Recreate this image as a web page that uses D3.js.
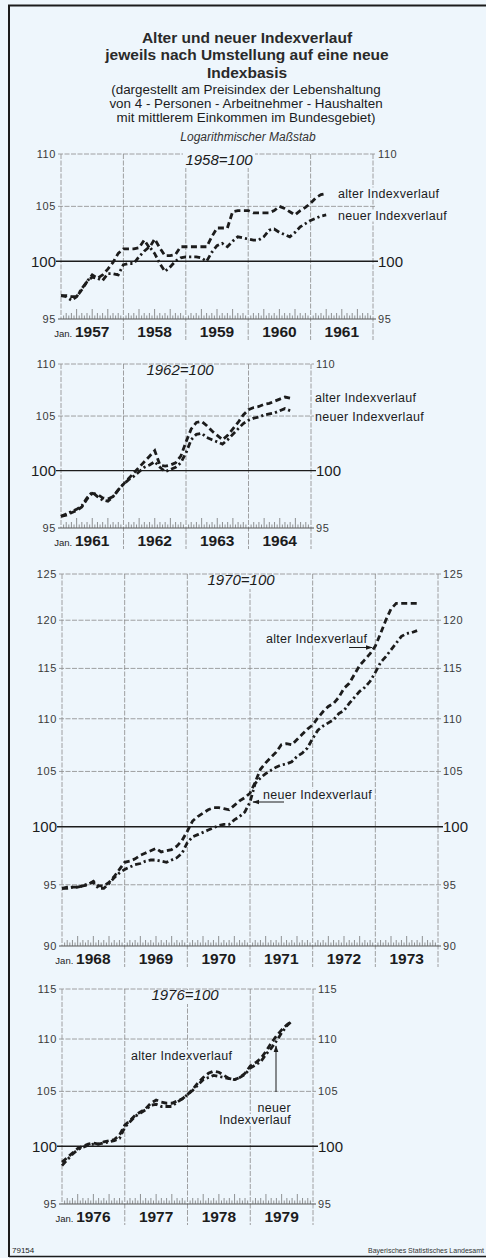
<!DOCTYPE html>
<html lang="de">
<head>
<meta charset="UTF-8">
<title>Alter und neuer Indexverlauf</title>
<script src="https://d3js.org/d3.v7.min.js"></script>
<style>
  body { margin: 0; background: #eef6fc; }
  svg { display: block; font-family: "Liberation Sans", Arial, sans-serif; }
</style>
</head>
<body>
<svg id="chart" width="486" height="1258"></svg>
<script>
// --- data: monthly index values (Jan. of first year = index 0)
const years1 = [1957, 1958, 1959, 1960, 1961];
const alter1 = [97.0, 97.0, 96.9, 96.9, 97.5, 98.2, 98.6, 98.5, 98.8, 99.3, 99.9, 100.7,
  101.1, 101.1, 101.1, 101.2, 101.9, 101.2, 102.0, 101.2, 100.5, 100.5, 100.6, 101.3,
  101.3, 101.3, 101.3, 101.3, 101.3, 102.2, 103.0, 103.0, 103.0, 104.5, 104.6, 104.6,
  104.6, 104.4, 104.4, 104.4, 104.4, 104.6, 105.0, 104.8, 104.5, 104.2, 104.6, 104.9,
  105.3, 105.8, 106.1, 106.2];
const neuer1 = [97.0, 96.9, 96.6, 96.9, 97.6, 98.2, 98.8, 98.5, 98.3, 98.9, 98.9, 98.8,
  99.7, 99.8, 99.8, 100.4, 100.9, 101.3, 100.7, 99.8, 99.1, 99.5, 100.0, 100.3,
  100.4, 100.4, 100.4, 100.3, 100.0, 100.8, 101.4, 101.6, 101.3, 101.8, 102.2, 102.1,
  102.0, 101.9, 101.9, 102.2, 102.8, 102.9, 102.6, 102.4, 102.2, 102.6, 103.1, 103.4,
  103.7, 103.9, 104.1, 104.2];
const ticks1 = [95, 100, 105, 110];

const years2 = [1961, 1962, 1963, 1964];
const alter2 = [96.0, 96.1, 96.3, 96.5, 96.8, 97.5, 98.0, 97.9, 97.6, 97.5, 97.7, 98.3,
  98.8, 99.3, 99.8, 100.3, 100.8, 101.3, 101.8, 100.5, 100.4, 100.5, 100.7, 101.3,
  102.6, 103.8, 104.4, 104.5, 104.1, 103.6, 103.2, 102.8, 103.2, 103.8, 104.4, 105.1,
  105.6, 105.8, 105.9, 106.1, 106.2, 106.4, 106.6, 106.8, 106.7];
const neuer2 = [96.0, 96.2, 96.4, 96.6, 96.9, 97.6, 98.1, 97.7, 97.4, 97.3, 97.7, 98.3,
  98.8, 99.2, 99.5, 99.9, 100.3, 100.5, 100.8, 100.3, 99.9, 100.1, 100.3, 100.7,
  101.6, 102.8, 103.3, 103.4, 103.0, 102.8, 102.6, 102.4, 102.8, 103.3, 103.8, 104.3,
  104.6, 104.8, 104.9, 105.1, 105.2, 105.3, 105.5, 105.7, 105.5];
const ticks2 = [95, 100, 105, 110];

const years3 = [1968, 1969, 1970, 1971, 1972, 1973];
const alter3 = [94.7, 94.8, 94.8, 94.8, 94.9, 95.0, 95.3, 94.9, 94.9, 95.2, 95.7, 96.3,
  96.9, 97.0, 97.2, 97.5, 97.7, 97.9, 98.1, 97.8, 97.9, 98.0, 98.3, 98.8,
  99.6, 100.5, 100.9, 101.2, 101.5, 101.7, 101.7, 101.6, 101.5, 101.9, 102.3, 102.6,
  103.0, 104.0, 105.2, 105.8, 106.3, 106.8, 107.5, 107.6, 107.5, 108.0, 108.5, 109.0,
  109.4, 110.1, 110.7, 111.2, 111.5, 112.1, 113.0, 113.5, 114.4, 115.3, 115.9, 116.5,
  117.3, 118.6, 120.0, 121.2, 121.8, 121.8, 121.8, 121.8, 121.8];
const neuer3 = [94.7, 94.7, 94.8, 94.8, 94.9, 95.1, 95.2, 94.7, 94.7, 95.1, 95.6, 96.0,
  96.3, 96.5, 96.7, 96.8, 97.0, 97.1, 97.1, 97.0, 96.9, 97.1, 97.3, 97.7,
  98.6, 99.1, 99.3, 99.5, 99.7, 99.9, 100.1, 100.2, 100.2, 100.6, 100.9, 101.3,
  102.2, 103.9, 104.4, 104.8, 105.1, 105.4, 105.6, 105.7, 105.9, 106.4, 106.7, 107.2,
  108.1, 108.9, 109.3, 109.6, 109.9, 110.5, 110.8, 111.5, 112.1, 112.7, 113.1, 113.7,
  114.6, 115.6, 116.2, 116.9, 117.6, 118.3, 118.6, 118.7, 118.9];
const ticks3 = [90, 95, 100, 105, 110, 115, 120, 125];

const years4 = [1976, 1977, 1978, 1979];
const alter4 = [98.6, 99.0, 99.4, 99.8, 100.0, 100.2, 100.3, 100.2, 100.4, 100.5, 100.6, 101.0,
  101.9, 102.3, 102.8, 103.1, 103.4, 103.9, 104.2, 104.0, 103.9, 103.9, 104.1, 104.3,
  104.7, 105.2, 105.8, 106.3, 106.7, 106.9, 106.8, 106.5, 106.2, 106.1, 106.3, 106.7,
  107.4, 107.7, 108.1, 108.8, 109.6, 110.3, 110.9, 111.4, 111.8];
const neuer4 = [98.3, 98.8, 99.3, 99.7, 99.9, 100.1, 100.2, 100.2, 100.3, 100.4, 100.5, 100.7,
  101.7, 102.2, 102.7, 103.0, 103.3, 103.7, 103.8, 103.6, 103.6, 103.6, 104.0, 104.3,
  104.7, 105.1, 105.6, 106.1, 106.3, 106.5, 106.4, 106.3, 106.2, 106.1, 106.3, 106.6,
  107.2, 107.5, 107.8, 108.5, 109.1, 109.8, 110.6, 111.3, 111.8];
const ticks4 = [95, 100, 105, 110, 115];

const titleLines = ['Alter und neuer Indexverlauf', 'jeweils nach Umstellung auf eine neue', 'Indexbasis'];
const subLines = ['(dargestellt am Preisindex der Lebenshaltung',
  'von 4 - Personen - Arbeitnehmer - Haushalten',
  'mit mittlerem Einkommen im Bundesgebiet)'];

// --- layout
const bg = '#eef6fc';
const ink = '#1c1c1c';
const gridCol = '#8a8a8a';

const panels = [
  { years: years1, alter: alter1, neuer: neuer1, ticks: ticks1, x0: 61, x1: 373, yTop: 154, yBot: 319,
    base: '1958=100', baseX: 219, cutTop: true, hideRight: [105],
    labels: [{ t: 'alter Indexverlauf', x: 338, y: 197.5 }, { t: 'neuer Indexverlauf', x: 338, y: 219.5 }],
    arrows: [] },
  { years: years2, alter: alter2, neuer: neuer2, ticks: ticks2, x0: 61, x1: 311, yTop: 364, yBot: 528,
    base: '1962=100', baseX: 180, cutTop: false, hideRight: [105],
    labels: [{ t: 'alter Indexverlauf', x: 315, y: 401.5 }, { t: 'neuer Indexverlauf', x: 315, y: 420.5 }],
    arrows: [] },
  { years: years3, alter: alter3, neuer: neuer3, ticks: ticks3, x0: 62, x1: 438, yTop: 574, yBot: 946,
    base: '1970=100', baseX: 241, cutTop: false, hideRight: [],
    labels: [{ t: 'alter Indexverlauf', x: 266, y: 642.5 }, { t: 'neuer Indexverlauf', x: 263, y: 798.5 }],
    arrows: [[349, 647.5, 372, 647.5], [284, 802, 253, 802]] },
  { years: years4, alter: alter4, neuer: neuer4, ticks: ticks4, x0: 62, x1: 313, yTop: 989, yBot: 1204,
    base: '1976=100', baseX: 185, cutTop: false, hideRight: [],
    labels: [{ t: 'alter Indexverlauf', x: 131, y: 1059.5 },
             { t: 'neuer', x: 291, y: 1111.5, anchor: 'end' },
             { t: 'Indexverlauf', x: 291, y: 1124, anchor: 'end' }],
    arrows: [[276, 1092, 276, 1046]] }
];

const svg = d3.select('#chart');
svg.append('rect').attr('width', 486).attr('height', 1258).attr('fill', bg);

// arrowhead
svg.append('defs').append('marker')
  .attr('id', 'head').attr('viewBox', '0 0 10 10').attr('refX', 9).attr('refY', 5)
  .attr('markerWidth', 7).attr('markerHeight', 7).attr('orient', 'auto')
  .append('path').attr('d', 'M0,1.5 L10,5 L0,8.5 Z').attr('fill', ink);

// frame
svg.append('path')
  .attr('d', 'M9,1257 L9,5.5 L486,5.5')
  .attr('fill', 'none').attr('stroke', ink).attr('stroke-width', 2);
svg.append('line').attr('x1', 9).attr('x2', 486).attr('y1', 1256.5).attr('y2', 1256.5)
  .attr('stroke', ink).attr('stroke-width', 1.5);

// titles
svg.append('g').selectAll('text').data(titleLines).join('text')
  .attr('x', 247).attr('y', (d, i) => 42.5 + i * 17.5)
  .attr('text-anchor', 'middle').attr('font-size', 15.5).attr('font-weight', 'bold')
  .attr('fill', '#2a2a2a').text(d => d);
svg.append('g').selectAll('text').data(subLines).join('text')
  .attr('x', 246).attr('y', (d, i) => 93.5 + i * 14)
  .attr('text-anchor', 'middle').attr('font-size', 13.4)
  .attr('fill', ink).text(d => d);
svg.append('text').attr('x', 248).attr('y', 140.5).attr('text-anchor', 'middle')
  .attr('font-size', 12).attr('font-style', 'italic').attr('fill', '#333')
  .text('Logarithmischer Maßstab');

panels.forEach(p => {
  const n = p.years.length * 12;
  const x = d3.scaleLinear().domain([0, n]).range([p.x0, p.x1]);
  const y = d3.scaleLog().domain([p.ticks[0], p.ticks[p.ticks.length - 1]]).range([p.yBot, p.yTop]);
  const g = svg.append('g');

  // horizontal gridlines
  g.selectAll('.hg').data(p.ticks.filter(t => t !== 100 && t !== p.ticks[0])).join('line')
    .attr('x1', x(0) - 3).attr('x2', x(n) + 3)
    .attr('y1', d => y(d)).attr('y2', d => y(d))
    .attr('stroke', gridCol).attr('stroke-width', 0.8).attr('stroke-dasharray', '5,1.5');

  // vertical gridlines (year boundaries), extended below axis as separators
  const yb = d3.range(0, p.years.length + 1);
  g.selectAll('.vg').data(yb).join('line')
    .attr('x1', d => x(d * 12)).attr('x2', d => x(d * 12))
    .attr('y1', p.yTop).attr('y2', d => d === 0 ? p.yBot : p.yBot + 21)
    .attr('stroke', gridCol).attr('stroke-width', 0.8).attr('stroke-dasharray', '5,1.5');

  // base line at bottom
  g.append('line').attr('x1', x(0) - 3).attr('x2', x(n) + 3)
    .attr('y1', p.yBot).attr('y2', p.yBot).attr('stroke', '#444').attr('stroke-width', 0.9);

  // month ticks (half-month short, quarters tall)
  const tk = d3.range(1, n * 2).filter(k => k % 24 !== 0);
  g.selectAll('.tk').data(tk).join('line')
    .attr('x1', k => x(k / 2)).attr('x2', k => x(k / 2))
    .attr('y1', p.yBot)
    .attr('y2', k => p.yBot - (k % 2 === 1 ? 3.5 : ((k / 2) % 3 === 0 ? 10 : 6)))
    .attr('stroke', '#666').attr('stroke-width', 0.7);

  // 100 line
  g.append('line').attr('x1', x(0) - 5).attr('x2', x(n) + 5)
    .attr('y1', y(100)).attr('y2', y(100)).attr('stroke', ink).attr('stroke-width', 1.4);

  // y labels
  const lab = (sel, side) => sel
    .attr('x', side === 'l' ? x(0) - 5 : x(n) + 5)
    .attr('y', d => y(d) + (d === 100 ? 5.5 : 4))
    .attr('text-anchor', side === 'l' ? 'end' : 'start')
    .attr('font-size', d => d === 100 ? 15 : 11)
    .attr('fill', d => d === 100 ? ink : '#3a3a3a')
    .attr('letter-spacing', d => d === 100 ? 0 : 0.6)
    .text(d => d);
  g.selectAll('.yl').data(p.ticks).join('text').call(lab, 'l');
  g.selectAll('.yr').data(p.ticks.filter(t => !p.hideRight.includes(t))).join('text').call(lab, 'r');

  // year labels
  g.selectAll('.yr2').data(p.years).join('text')
    .attr('x', (d, i) => x(i * 12 + 6)).attr('y', p.yBot + 18)
    .attr('text-anchor', 'middle').attr('font-size', 15.5).attr('font-weight', 'bold')
    .attr('fill', ink).text(d => d);
  g.append('text').attr('x', x(6) - 20).attr('y', p.yBot + 18)
    .attr('text-anchor', 'end').attr('font-size', 9.5).attr('fill', ink).text('Jan.');

  // base label
  const bw = 72;
  g.append('rect').attr('x', p.baseX - bw / 2).attr('y', p.cutTop ? p.yTop - 2 : p.yTop + 1)
    .attr('width', bw).attr('height', p.cutTop ? 16 : 14).attr('fill', bg);
  g.append('text').attr('x', p.baseX).attr('y', p.yTop + 10.5)
    .attr('text-anchor', 'middle').attr('font-size', 15).attr('font-style', 'italic')
    .attr('fill', ink).text(p.base);

  // series lines
  const line = d3.line().x((d, i) => x(i)).y(d => y(d));
  g.append('path').datum(p.alter).attr('d', line)
    .attr('fill', 'none').attr('stroke', ink).attr('stroke-width', 2.8)
    .attr('stroke-dasharray', '6,3.5');
  g.append('path').datum(p.neuer).attr('d', line)
    .attr('fill', 'none').attr('stroke', ink).attr('stroke-width', 2.8)
    .attr('stroke-dasharray', '6,3,2.2,3');

  // annotations
  p.labels.forEach(l => {
    const t = g.append('text').attr('x', l.x).attr('y', l.y)
      .attr('text-anchor', l.anchor || 'start').attr('font-size', 12.5)
      .attr('letter-spacing', 0.3).attr('fill', ink).text(l.t);
    const b = t.node().getBBox();
    g.insert('rect', function () { return t.node(); })
      .attr('x', b.x - 1).attr('y', b.y + 1).attr('width', b.width + 2).attr('height', b.height - 2)
      .attr('fill', bg);
  });
  p.arrows.forEach(a => {
    g.append('line').attr('x1', a[0]).attr('y1', a[1]).attr('x2', a[2]).attr('y2', a[3])
      .attr('stroke', ink).attr('stroke-width', 1).attr('marker-end', 'url(#head)');
  });
});

// footer
svg.append('text').attr('x', 12).attr('y', 1253).attr('font-size', 8).attr('fill', ink).text('79154');
svg.append('text').attr('x', 484).attr('y', 1253).attr('text-anchor', 'end')
  .attr('font-size', 7).attr('fill', '#333').text('Bayerisches Statistisches Landesamt');
</script>
</body>
</html>
